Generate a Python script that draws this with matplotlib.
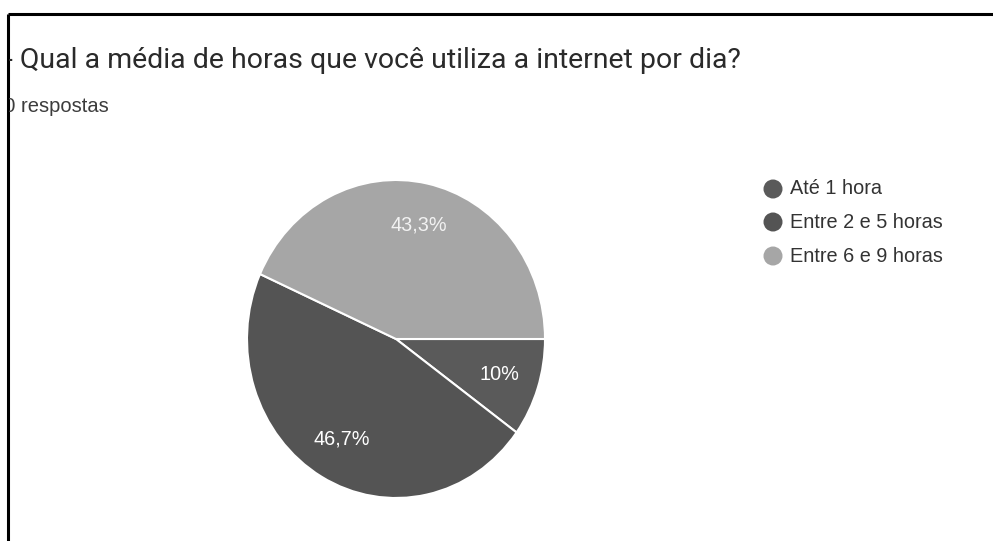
import matplotlib.pyplot as plt
from matplotlib.patches import Ellipse

# dados da pergunta
title = "- Qual a média de horas que você utiliza a internet por dia?"
subtitle = "30 respostas"
categories = ["Até 1 hora", "Entre 2 e 5 horas", "Entre 6 e 9 horas"]
values = [10.0, 46.7, 43.3]
colors = ["#5a5a5a", "#545454", "#a6a6a6"]

W, H = 993, 541
fig = plt.figure(figsize=(W / 100, H / 100), dpi=100)
fig.patch.set_facecolor("white")

# camada de fundo em pixels (textos, moldura, legenda)
bg = fig.add_axes([0, 0, 1, 1])
bg.set_xlim(0, W)
bg.set_ylim(H, 0)
bg.axis("off")

# moldura: só topo e lado esquerdo aparecem
bg.plot([8, W], [14, 14], color="black", lw=2.2, solid_capstyle="butt")
bg.plot([8, 8], [14, H], color="black", lw=2.2, solid_capstyle="butt")

# área de conteúdo recortada pela moldura
clip = fig.add_axes([9 / W, 0, 1 - 9 / W, 1 - 15 / H])
clip.set_xlim(9, W)
clip.set_ylim(H, 15)
clip.axis("off")

clip.text(5, 68, title, fontsize=20.5, family="Roboto", color="#2a2a2a",
          va="baseline", ha="left", clip_on=True)
clip.text(-7, 112, subtitle, fontsize=14.5, family="Liberation Sans",
          color="#3c3c3c", va="baseline", ha="left", clip_on=True)

# legenda
leg_y = [189, 222, 256]
for name, col, y in zip(categories, colors, leg_y):
    bg.add_patch(Ellipse((773, y), 19, 19, color=col, lw=0))
    bg.text(790, y, name, fontsize=14.3, family="Liberation Sans",
            color="#333333", va="center", ha="left")


def fmt(p):
    s = f"{p:.1f}".replace(".", ",")
    if s.endswith(",0"):
        s = s[:-2]
    return s + "%"


# pizza (levemente achatada na horizontal)
cx, cy, rx, ry = 396, 339, 149, 159
ax = fig.add_axes([(cx - rx) / W, (H - cy - ry) / H, 2 * rx / W, 2 * ry / H])
wedges, texts, autotexts = ax.pie(
    values, colors=colors, startangle=0, counterclock=False,
    autopct=fmt, pctdistance=0.73,
    wedgeprops=dict(edgecolor="white", linewidth=1.5),
    textprops=dict(color="white", fontsize=14.3, family="Liberation Sans"),
)
autotexts[2].set_color("#f2f2f2")
ax.set_aspect("auto")
ax.set_xlim(-1, 1)
ax.set_ylim(-1, 1)
ax.axis("off")

fig.savefig("out.png", dpi=100)
